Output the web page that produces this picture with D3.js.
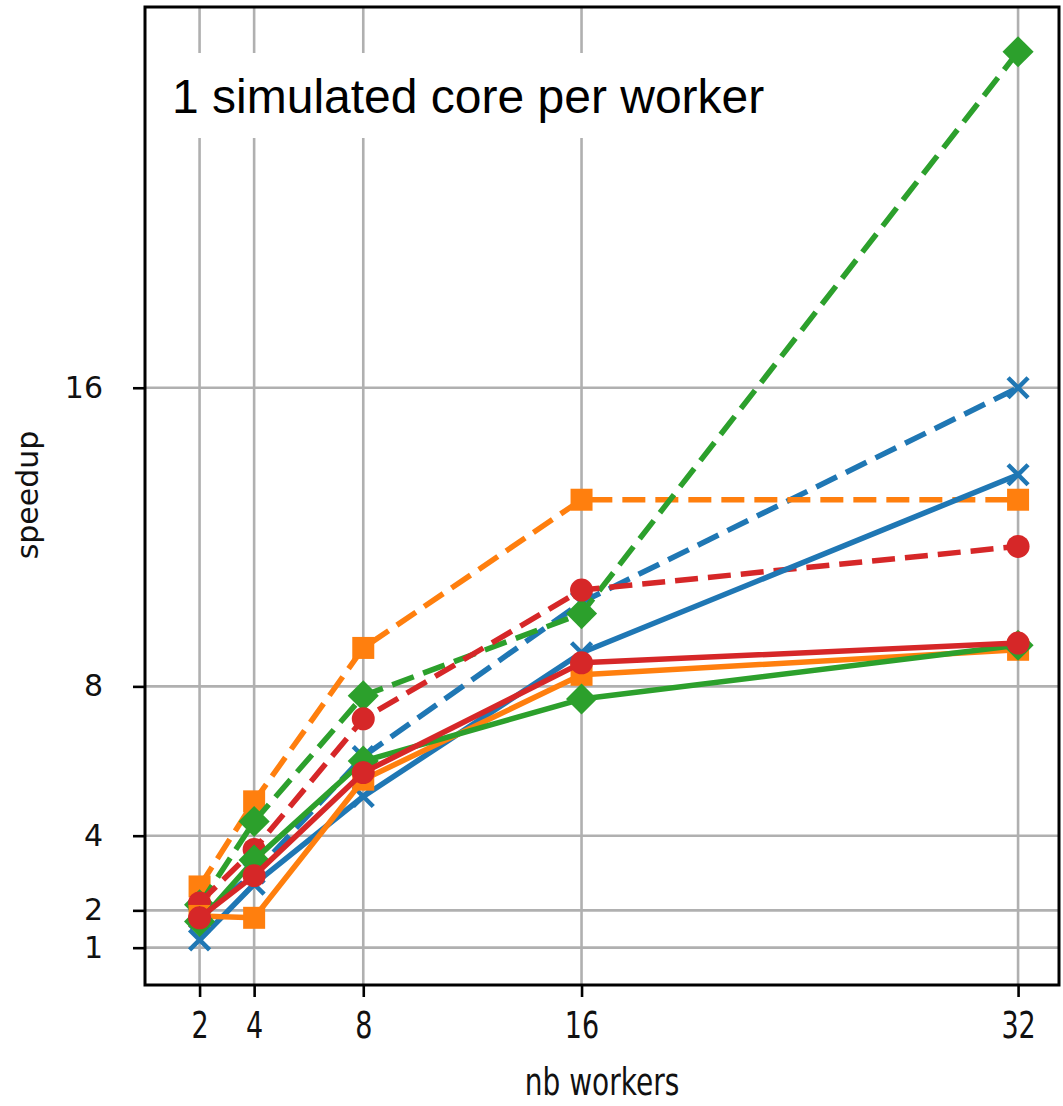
<!DOCTYPE html>
<html>
<head>
<meta charset="utf-8">
<script src="https://cdn.jsdelivr.net/npm/d3@7"></script>
<style>
body { margin: 0; background: #fff; }
text { font-family: "DejaVu Sans", sans-serif; }
</style>
</head>
<body>
<svg width="1063" height="1106"></svg>
<script>
// data
var workers = [2, 4, 8, 16, 32];
var xTicks = [2, 4, 8, 16, 32];
var yTicks = [1, 2, 4, 8, 16];

var blueSolid   = [1.21, 2.70, 5.05, 8.90, 13.67];
var blueDash    = [1.80, 3.00, 6.12, 10.25, 16.0];
var orangeSolid = [1.85, 1.80, 5.50, 8.31, 8.98];
var orangeDash  = [2.64, 4.92, 9.03, 13.0, 13.0];
var greenSolid  = [1.70, 3.35, 6.00, 7.66, 9.10];
var greenDash   = [2.15, 4.38, 7.75, 9.95, 25.0];
var redSolid    = [1.80, 2.93, 5.69, 8.63, 9.16];
var redDash     = [2.20, 3.63, 7.13, 10.58, 11.75];

var title = "1 simulated core per worker";

window.onload = main;

function main() {
    var svg = d3.select("svg");

    var left = 145, right = 1059, top = 7, bottom = 985;

    var x = d3.scaleLinear().domain([0, 33.5]).range([left, right]);
    var y = d3.scaleLinear().domain([0, 26.2]).range([bottom, top]);

    // dashed ones first, solid on top (that's how it looks in the picture)
    var series = [
        { v: blueDash,    c: "#1f77b4", dash: true,  m: "x" },
        { v: orangeDash,  c: "#ff7f0e", dash: true,  m: "s" },
        { v: greenDash,   c: "#2ca02c", dash: true,  m: "D" },
        { v: redDash,     c: "#d62728", dash: true,  m: "o" },
        { v: blueSolid,   c: "#1f77b4", dash: false, m: "x" },
        { v: orangeSolid, c: "#ff7f0e", dash: false, m: "s" },
        { v: greenSolid,  c: "#2ca02c", dash: false, m: "D" },
        { v: redSolid,    c: "#d62728", dash: false, m: "o" }
    ];

    // grid
    var grid = svg.append("g").attr("class", "grid");
    grid.selectAll("line.gx")
        .data(xTicks)
        .enter()
        .append("line")
        .attr("class", "gx")
        .attr("x1", d => x(d)).attr("x2", d => x(d))
        .attr("y1", top).attr("y2", bottom)
        .attr("stroke", "#b0b0b0")
        .attr("stroke-width", 2.6);
    grid.selectAll("line.gy")
        .data(yTicks)
        .enter()
        .append("line")
        .attr("class", "gy")
        .attr("y1", d => y(d)).attr("y2", d => y(d))
        .attr("x1", left).attr("x2", right)
        .attr("stroke", "#b0b0b0")
        .attr("stroke-width", 2.6);

    // axes
    var xAxis = svg.append("g")
        .attr("transform", "translate(0," + bottom + ")")
        .call(d3.axisBottom(x).tickValues(xTicks).tickSize(12).tickPadding(0));
    xAxis.select(".domain").remove();
    xAxis.selectAll(".tick line").attr("stroke", "#000").attr("stroke-width", 2.6);
    xAxis.selectAll(".tick text")
        .attr("fill", "#111")
        .style("font-size", "27px")
        .attr("dy", null)
        .attr("y", 0)
        .attr("transform", "translate(0,53) scale(1,1.4)");

    var yAxis = svg.append("g")
        .attr("transform", "translate(" + left + ",0)")
        .call(d3.axisLeft(y).tickValues(yTicks).tickSize(12).tickPadding(30));
    yAxis.select(".domain").remove();
    yAxis.selectAll(".tick line").attr("stroke", "#000").attr("stroke-width", 2.6);
    yAxis.selectAll(".tick text")
        .attr("fill", "#111")
        .style("font-size", "30px");

    // axis labels
    svg.append("text")
        .attr("text-anchor", "middle")
        .attr("transform", "translate(" + (left + right) / 2 + ",1095) scale(1,1.3)")
        .style("font-size", "28px")
        .attr("fill", "#111")
        .text("nb workers");

    svg.append("text")
        .attr("text-anchor", "middle")
        .attr("transform", "translate(38,495) rotate(-90)")
        .style("font-size", "30px")
        .attr("fill", "#111")
        .text("speedup");

    // lines + markers
    var line = d3.line()
        .x((d, i) => x(workers[i]))
        .y(d => y(d));

    var sq = d3.symbol().type(d3.symbolSquare).size(484);
    var circ = d3.symbol().type(d3.symbolCircle).size(415);

    series.forEach(function (s) {
        var g = svg.append("g");
        g.append("path")
            .attr("d", line(s.v))
            .attr("fill", "none")
            .attr("stroke", s.c)
            .attr("stroke-width", 5.5)
            .attr("stroke-linejoin", "round")
            .attr("stroke-dasharray", s.dash ? "23,10" : null);

        var pts = g.selectAll("g.pt")
            .data(s.v)
            .enter()
            .append("g")
            .attr("class", "pt")
            .attr("transform", (d, i) => "translate(" + x(workers[i]) + "," + y(d) + ")");

        if (s.m == "s") {
            pts.append("path").attr("d", sq()).attr("fill", s.c);
        } else if (s.m == "D") {
            pts.append("path").attr("d", sq()).attr("fill", s.c).attr("transform", "rotate(45)");
        } else if (s.m == "o") {
            pts.append("path").attr("d", circ()).attr("fill", s.c);
        } else {
            pts.append("path")
                .attr("d", "M-10,-10L10,10M-10,10L10,-10")
                .attr("stroke", s.c)
                .attr("stroke-width", 4.5)
                .attr("fill", "none");
        }
    });

    // frame
    svg.append("rect")
        .attr("x", left).attr("y", top)
        .attr("width", right - left).attr("height", bottom - top)
        .attr("fill", "none")
        .attr("stroke", "#000")
        .attr("stroke-width", 3);

    // title box on top of the grid
    svg.append("rect")
        .attr("x", 155).attr("y", 53)
        .attr("width", 625).attr("height", 85)
        .attr("fill", "#fff");
    svg.append("text")
        .attr("x", 172).attr("y", 113)
        .style("font-family", "'Liberation Sans', Arial, sans-serif")
        .style("font-size", "48px")
        .attr("fill", "#000")
        .text(title);
}
</script>
</body>
</html>
